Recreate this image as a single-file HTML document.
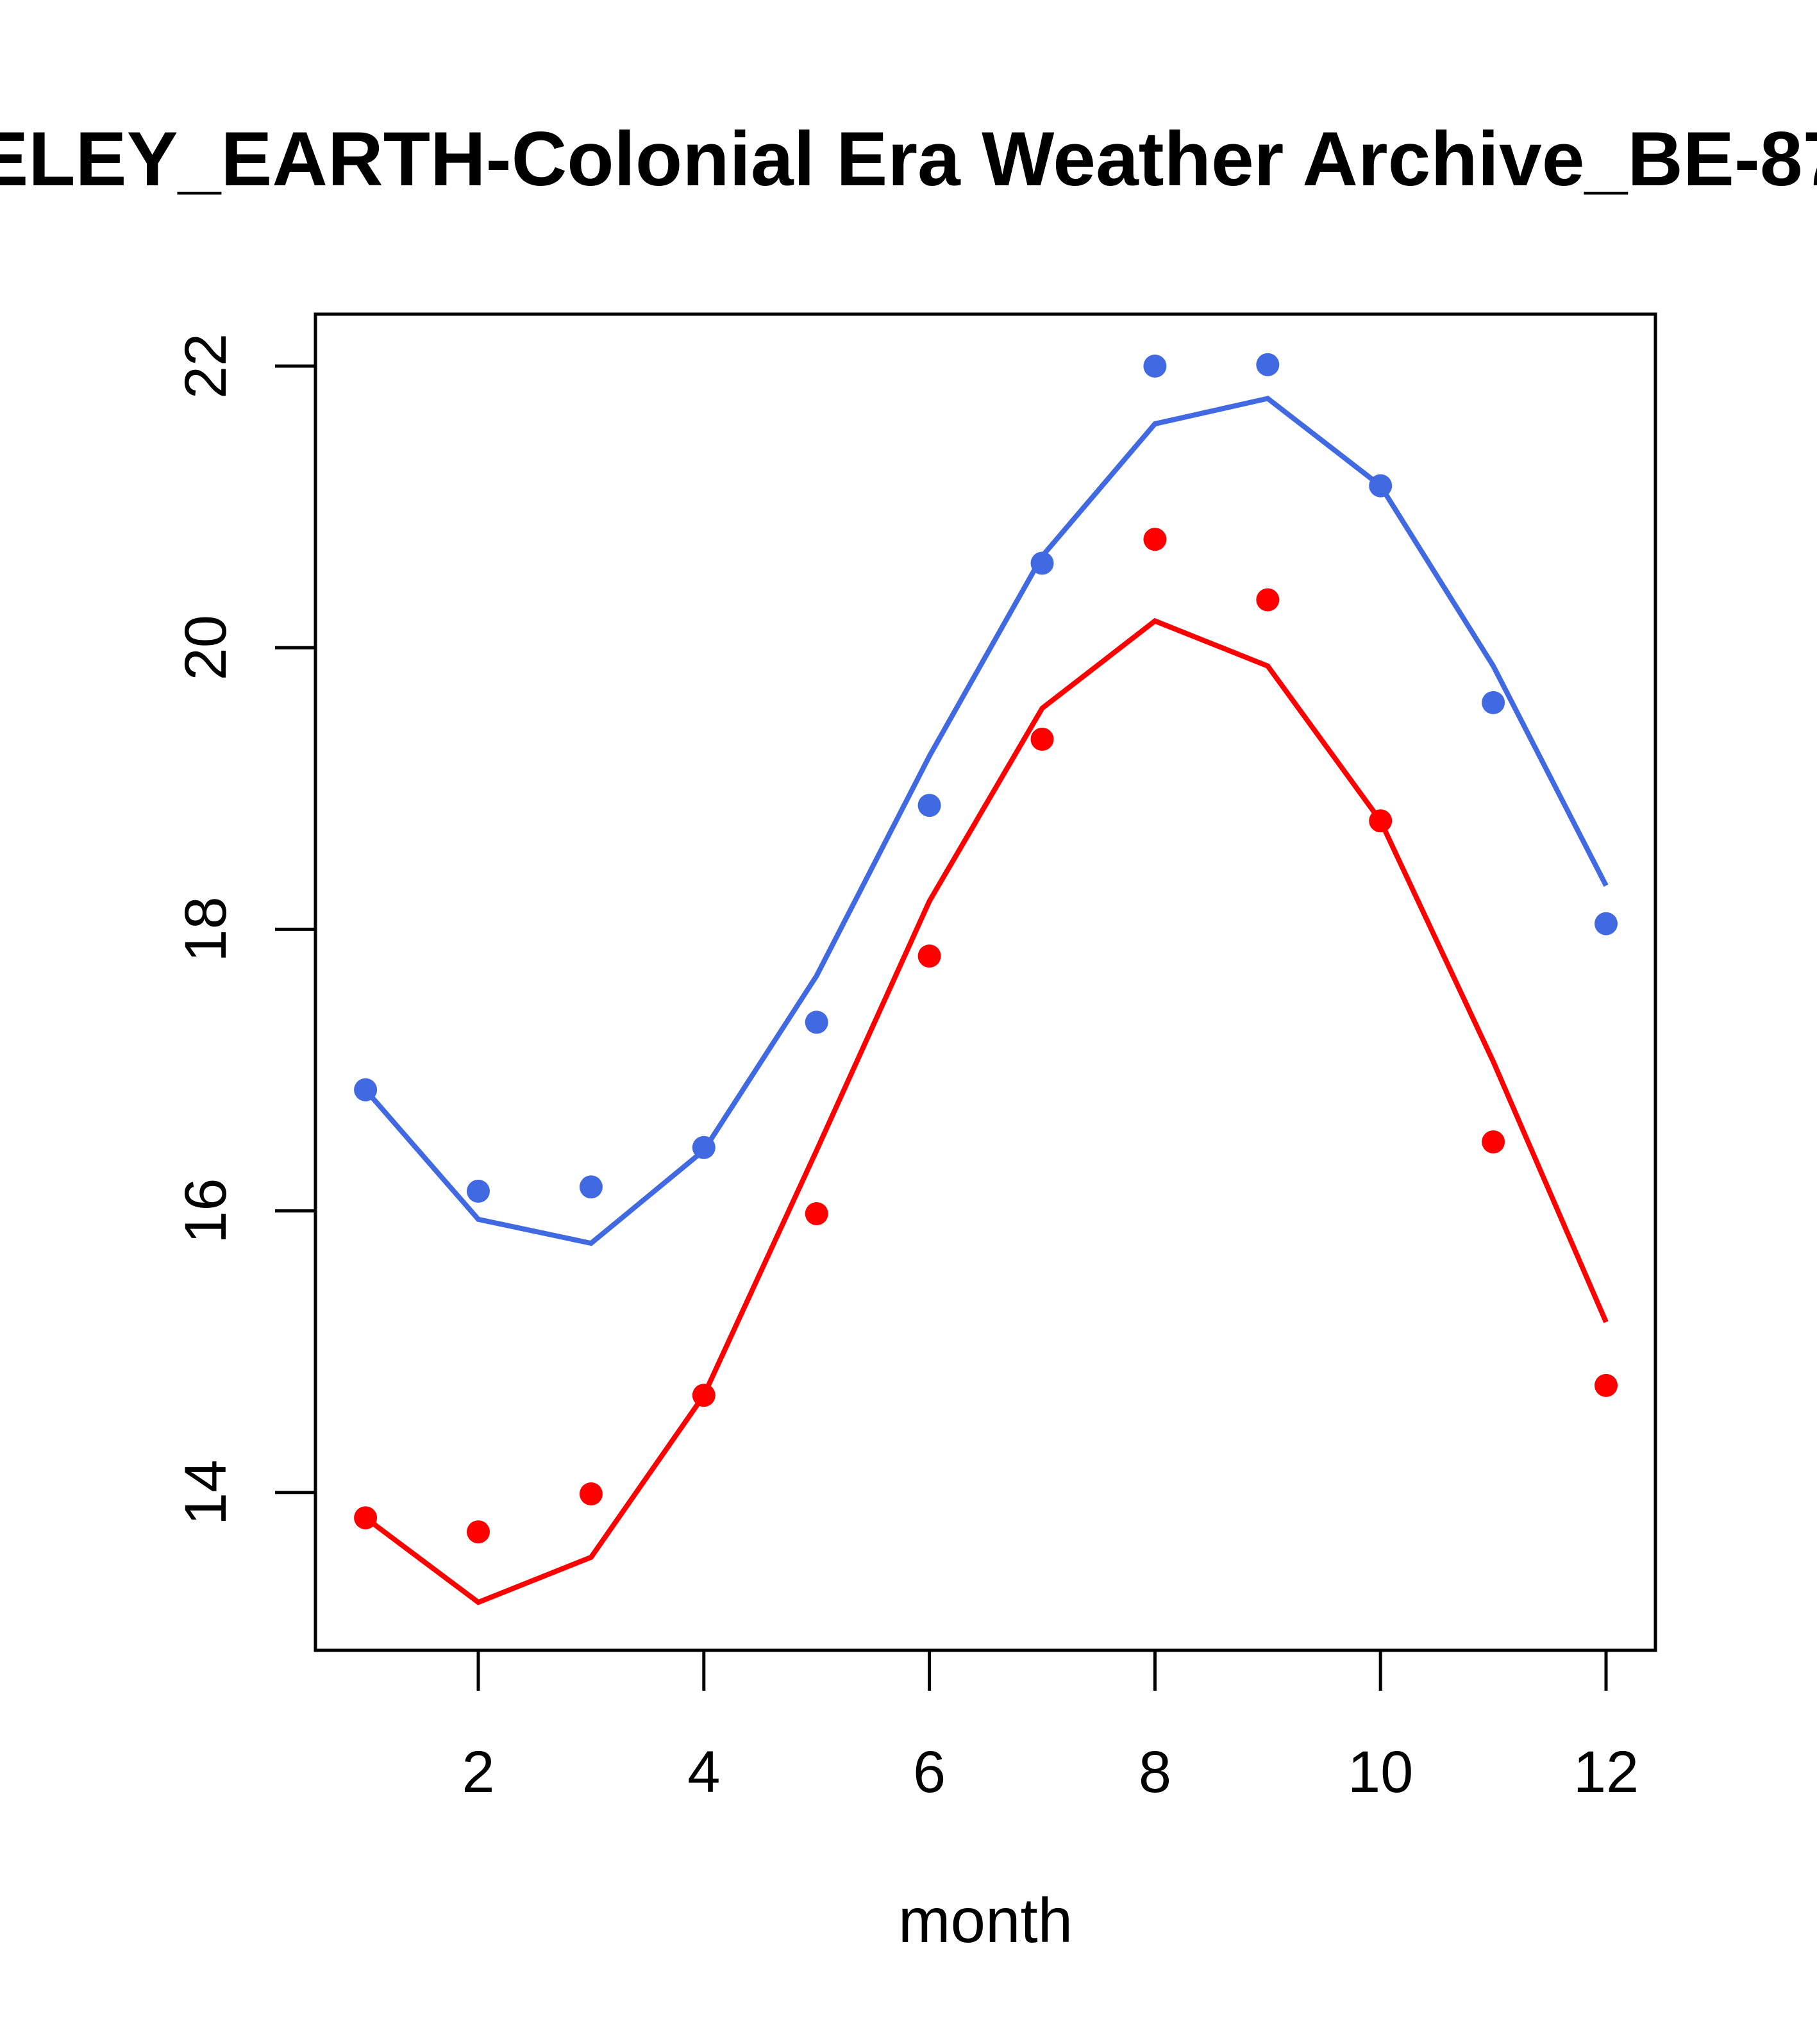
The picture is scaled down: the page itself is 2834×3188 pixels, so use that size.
<!DOCTYPE html>
<html><head><meta charset="utf-8"><style>
html,body{margin:0;padding:0;background:#fff;}
svg{display:block;font-family:"Liberation Sans",sans-serif;}
</style></head><body>
<svg id="chart" width="2834" height="3188" viewBox="0 0 2834 3188">
<text x="1318" y="289" text-anchor="middle" font-size="120" font-weight="bold">BERKELEY_EARTH-Colonial Era Weather Archive_BE-8753</text>
<rect x="492" y="490" width="2090" height="2084" fill="none" stroke="#000" stroke-width="5"/>
<g id="axes"></g>
<g id="series"></g>
<text x="1537" y="3029" text-anchor="middle" font-size="98">month</text>
</svg>
<script>
const months=[1,2,3,4,5,6,7,8,9,10,11,12];
const blueLine=[16.86,15.94,15.77,16.43,17.67,19.23,20.65,21.59,21.77,21.15,19.87,18.31];
const bluePts=[16.86,16.14,16.17,16.45,17.34,18.88,20.60,22.0,22.01,21.15,19.61,18.04];
const redLine=[13.82,13.22,13.54,14.69,16.43,18.20,19.57,20.19,19.87,18.77,17.06,15.21];
const redPts=[13.82,13.72,13.99,14.69,15.98,17.81,19.35,20.77,20.34,18.77,16.49,14.76];
const xTicks=[2,4,6,8,10,12];
const yTicks=[14,16,18,20,22];
const NS='http://www.w3.org/2000/svg';
const x=v=>746+(v-2)*175.9;
const y=v=>571+(22-v)*219.6;
const axes=document.getElementById('axes'),ser=document.getElementById('series');
function mk(tag,attrs,parent){const e=document.createElementNS(NS,tag);for(const k in attrs)e.setAttribute(k,attrs[k]);parent.appendChild(e);return e;}
xTicks.forEach(t=>{
 const l=mk('line',{x1:x(t),x2:x(t),y1:2574,y2:2637,stroke:'#000','stroke-width':5},axes);
 
 
 const tx=mk('text',{x:x(t),y:2795,'text-anchor':'middle','font-size':92},axes);
 
 
 tx.textContent=t;
});
yTicks.forEach(t=>{
 const l=mk('line',{x1:429,x2:492,y1:y(t),y2:y(t),stroke:'#000','stroke-width':5},axes);
 
 
 const tx=mk('text',{x:0,y:0,'text-anchor':'middle','font-size':92,transform:`translate(352,${y(t)}) rotate(-90)`},axes);
 
 
 tx.textContent=t;
});
function drawLine(vals,color,name){
 const p=mk('polyline',{points:vals.map((v,i)=>x(months[i])+','+y(v)).join(' '),fill:'none',stroke:color,'stroke-width':8},ser);
 
 
}
function drawPts(vals,color,name){
 vals.forEach((v,i)=>{
  const c=mk('circle',{cx:x(months[i]),cy:y(v),r:18,fill:color},ser);
  
  
 });
}
drawLine(blueLine,'#4169E1','blue-line');
drawLine(redLine,'#FF0000','red-line');
drawPts(bluePts,'#4169E1','blue-point');
drawPts(redPts,'#FF0000','red-point');
</script>
</body></html>
